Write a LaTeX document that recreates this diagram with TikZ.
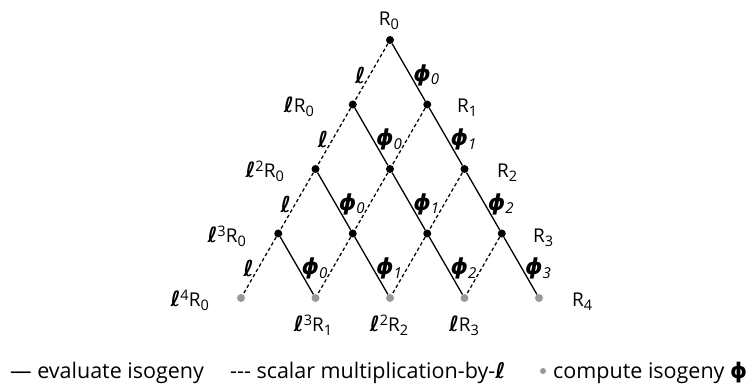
\documentclass[tikz,border=0pt]{standalone}
\usepackage{fontspec}
\setmainfont{Open Sans}
\newfontfamily\symf{DejaVu Sans}
\newcommand\Ls{{\symf\bfseries\itshape ℓ}}
\newcommand\Lb{{\symf\bfseries\itshape\fontsize{21}{22}\selectfont ℓ}}
\newcommand\Lp{{\symf\bfseries ϕ}}
\newcommand\Ph[1]{{\symf\bfseries\itshape ϕ}{\raisebox{-0.3ex}{\fontsize{15}{15}\selectfont\itshape #1}}}
\newcommand\Sb[1]{\raisebox{-0.33ex}{\fontsize{14.5}{15}\selectfont #1}}
\newcommand\Sp[1]{\raisebox{0.62ex}{\fontsize{14.5}{15}\selectfont #1}}
\tikzset{
  dot/.style={circle,fill=black,inner sep=0pt,minimum size=8pt},
  gdot/.style={circle,fill=black!40,inner sep=0pt,minimum size=8pt},
  dashedge/.style={draw=black,line width=1.25pt,dash pattern=on 3.5pt off 2.6pt},
  solidedge/.style={draw=black,line width=1.3pt},
  lab/.style={inner sep=0pt,font=\fontsize{19}{20}\selectfont},
  phil/.style={pos=0.55,right,inner sep=2.5pt,font=\fontsize{22}{22}\selectfont},
  elll/.style={pos=0.55,left,inner sep=3.5pt,font=\fontsize{22}{22}\selectfont},
  leg/.style={anchor=base west,inner sep=0pt,font=\fontsize{21.5}{24}\selectfont}
}
\begin{document}
\begin{tikzpicture}[x=1pt,y=-1pt]
\useasboundingbox (0,0) rectangle (750,387);
% nodes
\foreach \k in {0,...,3}{
  \foreach \i in {0,...,\k}{
    \node[dot] (n\k\i) at ({390+(2*\i-\k)*37.25},{40+\k*64.5}) {};
  }
}
\foreach \i in {0,...,4}{
  \node[gdot] (n4\i) at ({390+(2*\i-4)*37.25},298) {};
}
% edges
\foreach \k in {0,...,3}{
  \pgfmathtruncatemacro\kk{\k+1}
  \foreach \i in {0,...,\k}{
    \pgfmathtruncatemacro\ii{\i+1}
    \ifnum\i=0
      \draw[dashedge] (n\k\i) -- (n\kk\i) node[elll]{\Ls};
    \else
      \draw[dashedge] (n\k\i) -- (n\kk\i);
    \fi
    \draw[solidedge] (n\k\i) -- (n\kk\ii) node[phil]{\Ph{\i}};
  }
}
% labels
\node[lab,anchor=base] (t00) at (389,26) {R\Sb{0}};
\node[lab,anchor=base east] (t10) at (314,113) {\Lb R\Sb{0}};
\node[lab,anchor=base west] (t11) at (457,113) {R\Sb{1}};
\node[lab,anchor=base east] (t20) at (284,178) {\Lb\Sp{2}R\Sb{0}};
\node[lab,anchor=base west] (t22) at (497,178) {R\Sb{2}};
\node[lab,anchor=base east] (t30) at (246,243) {\Lb\Sp{3}R\Sb{0}};
\node[lab,anchor=base west] (t33) at (533,243) {R\Sb{3}};
\node[lab,anchor=base east] (t40) at (209,307) {\Lb\Sp{4}R\Sb{0}};
\node[lab,anchor=base west] (t44) at (572,307) {R\Sb{4}};
\node[lab,anchor=base] (t41) at (313,332) {\Lb\Sp{3}R\Sb{1}};
\node[lab,anchor=base] (t42) at (389,332) {\Lb\Sp{2}R\Sb{2}};
\node[lab,anchor=base] (t43) at (464,332) {\Lb R\Sb{3}};
% legend
\node[leg] (l1) at (10,378) {— evaluate isogeny};
\node[leg] (l2) at (230,378) {-{}-{}- scalar multiplication-by-\Ls};
\node[circle,fill=black!40,inner sep=0pt,minimum size=6pt] (l3) at (543,371) {};
\node[leg] (l4) at (553,378) {compute isogeny \Lp};
\end{tikzpicture}
\end{document}
